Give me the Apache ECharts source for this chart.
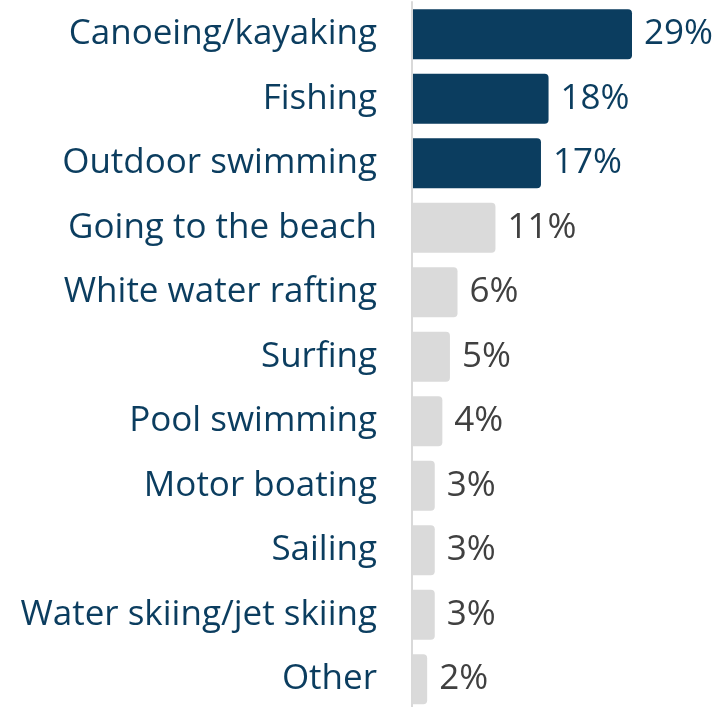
<!DOCTYPE html>
<html>
<head>
<meta charset="utf-8">
<script src="https://cdn.jsdelivr.net/npm/echarts@6/dist/echarts.min.js"></script>
<style>
  html, body { margin: 0; padding: 0; background: #ffffff; overflow: hidden; }
  #chart { width: 720px; height: 712px; }
</style>
</head>
<body>
<div id="chart"></div>
<script>
// Water activities, share of respondents (%)
const categories = [
  'Canoeing/kayaking', 'Fishing', 'Outdoor swimming', 'Going to the beach',
  'White water rafting', 'Surfing', 'Pool swimming', 'Motor boating',
  'Sailing', 'Water skiing/jet skiing', 'Other'
];
const values = [29, 18, 17, 11, 6, 5, 4, 3, 3, 3, 2];
// The three most popular activities are highlighted
const highlightCount = 3;

const NAVY = '#0b3d5f';
const GREY_BAR = '#dadada';
const GREY_TEXT = '#404040';
const FONT = '"Open Sans", "Noto Sans", sans-serif';

const chart = echarts.init(document.getElementById('chart'), null, { renderer: 'canvas' });

chart.setOption({
  animation: false,
  grid: { left: 412, right: 720 - 632, top: 2, height: 709.5, containLabel: false },
  xAxis: {
    type: 'value', min: 0, max: 29,
    show: false
  },
  yAxis: {
    type: 'category',
    inverse: true,
    data: categories,
    axisLine: { show: true, lineStyle: { color: '#d9d9d9', width: 2 } },
    axisTick: { show: false },
    axisLabel: {
      margin: 35,
      color: NAVY,
      fontFamily: FONT,
      fontSize: 35
    },
    z: 5
  },
  series: [{
    type: 'bar',
    data: values.map((v, i) => ({
      value: v,
      itemStyle: { color: i < highlightCount ? NAVY : GREY_BAR },
      label: { color: i < highlightCount ? NAVY : GREY_TEXT }
    })),
    barWidth: 50,
    itemStyle: { borderRadius: [0, 4, 4, 0] },
    label: {
      show: true,
      position: 'right',
      distance: 12,
      fontFamily: FONT,
      fontSize: 35,
      fontWeight: 500,
      formatter: p => p.value + '%'
    }
  }]
});
</script>
</body>
</html>
